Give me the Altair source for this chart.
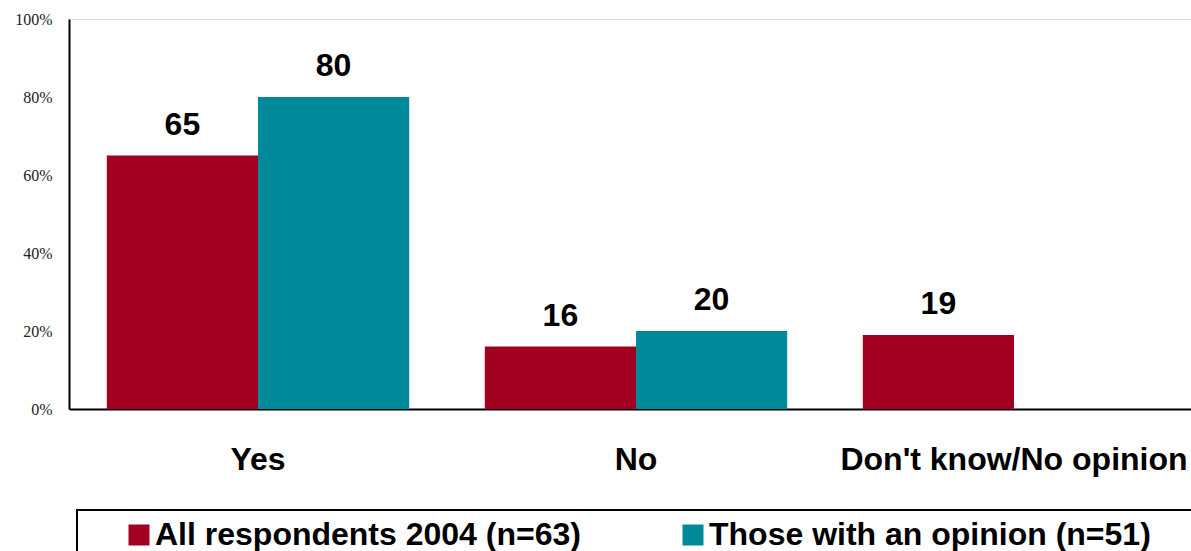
import altair as alt
import pandas as pd

# Survey answers and the two respondent groups
categories = ["Yes", "No", "Don't know/No opinion"]
series = ["All respondents 2004 (n=63)", "Those with an opinion (n=51)"]
all_respondents = [65, 16, 19]
with_opinion = [80, 20, None]
colors = ["#A20021", "#00899A"]
y_ticks = [0, 20, 40, 60, 80, 100]

rows = []
for name, values in zip(series, [all_respondents, with_opinion]):
    for cat, v in zip(categories, values):
        if v is not None:
            rows.append({"answer": cat, "group": name, "pct": v})
df = pd.DataFrame(rows)

FONT = "Liberation Sans"

x_enc = alt.X(
    "answer:N",
    sort=categories,
    scale=alt.Scale(range=[0, 1134], paddingInner=0.2, paddingOuter=0.1),
    axis=alt.Axis(
        title=None,
        labelAngle=0,
        labelFont=FONT,
        labelFontSize=32,
        labelFontWeight="bold",
        labelColor="black",
        labelPadding=35,
        labelLimit=1000,
        labelOverlap=False,
        ticks=False,
        domainColor="black",
        domainWidth=2,
    ),
)
xo_enc = alt.XOffset("group:N", sort=series, scale=alt.Scale(domain=series, paddingInner=0, paddingOuter=0))
y_enc = alt.Y(
    "pct:Q",
    scale=alt.Scale(domain=[0, 100], nice=False),
    axis=alt.Axis(
        title=None,
        values=y_ticks,
        labelExpr="datum.value + '%'",
        labelFont="Liberation Serif",
        labelFontSize=16,
        labelColor="#222222",
        labelPadding=17,
        ticks=False,
        grid=False,
        domainColor="black",
        domainWidth=2,
    ),
)

bars = alt.Chart(df).mark_bar().encode(
    x=x_enc,
    xOffset=xo_enc,
    y=y_enc,
    color=alt.Color(
        "group:N",
        sort=series,
        scale=alt.Scale(domain=series, range=colors),
        legend=alt.Legend(
            title=None,
            orient="none",
            direction="horizontal",
            legendX=54,
            legendY=500,
            padding=0,
            symbolType="square",
            symbolSize=441,
            symbolStrokeWidth=0,
            symbolOpacity=1,
            labelFont=FONT,
            labelFontSize=32,
            labelFontWeight="bold",
            labelColor="black",
            labelOffset=0,
            labelLimit=600,
            columnPadding=96,
        ),
    ),
)

labels = alt.Chart(df).mark_text(
    font=FONT, fontSize=32, fontWeight="bold", color="black", baseline="alphabetic", dy=-21
).encode(
    x=alt.X("answer:N", sort=categories),
    xOffset=alt.XOffset("group:N", sort=series),
    y="pct:Q",
    text=alt.Text("pct:Q"),
)

# Frame around the legend
frame = alt.Chart(alt.Data(values=[{}])).mark_rect(
    fillOpacity=0, stroke="black", strokeWidth=2
).encode(
    x=alt.value(8), x2=alt.value(1200), y=alt.value(491), y2=alt.value(620)
)

chart = (
    alt.layer(bars, labels, frame)
    .properties(
        width=1122,
        height=390,
        autosize=alt.AutoSizeParams(type="none"),
        padding={"left": 69, "top": 19, "right": 0, "bottom": 142},
    )
    .configure_view(stroke=None)
    .configure(background="white")
)

chart.save("out.html", embed_options={"renderer": "svg", "actions": False})
